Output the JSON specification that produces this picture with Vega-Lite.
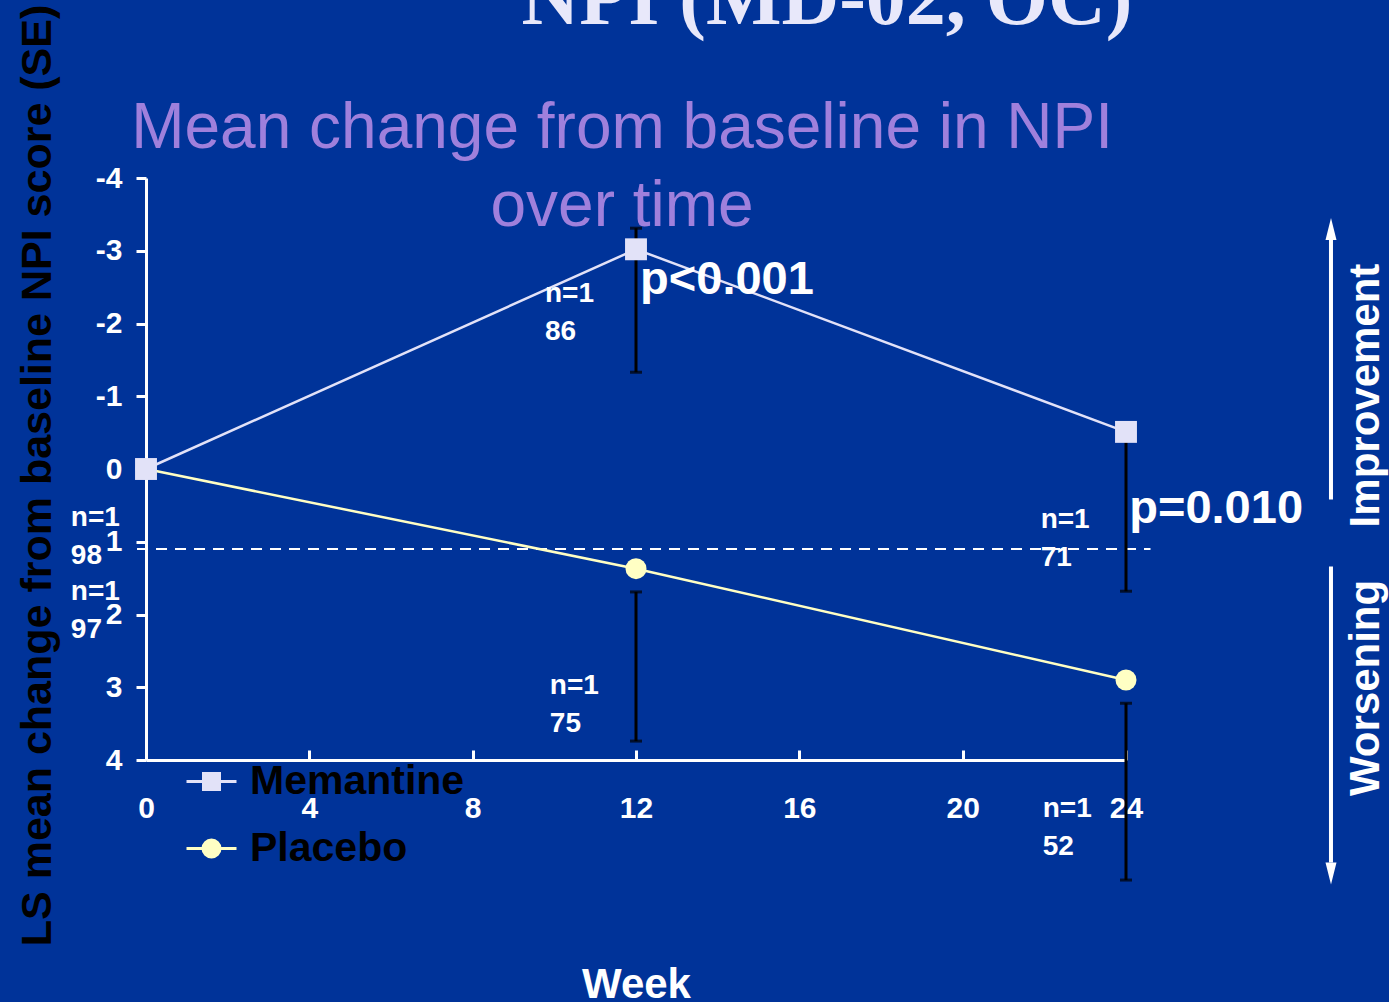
{
  "$schema": "https://vega.github.io/schema/vega-lite/v6.json",
  "width": 980,
  "height": 582,
  "autosize": {"type": "none"},
  "padding": {"left": 146, "top": 178, "right": 263, "bottom": 242},
  "background": "#003399",
  "title": {
    "text": "NPI (MD-02, OC)",
    "font": "Liberation Serif",
    "fontSize": 80,
    "fontWeight": "bold",
    "color": "#e8e8fa",
    "anchor": "middle",
    "frame": "group",
    "baseline": "alphabetic",
    "offset": 0,
    "dy": 100,
    "dx": 191
  },
  "config": {
    "view": {"stroke": null},
    "font": "Liberation Sans",
    "axis": {"grid": false}
  },
  "datasets": {
    "series": [
      {"week": 0, "series": "Placebo", "change": 0},
      {"week": 12, "series": "Placebo", "change": 1.37},
      {"week": 24, "series": "Placebo", "change": 2.9},
      {"week": 0, "series": "Memantine", "change": 0},
      {"week": 12, "series": "Memantine", "change": -3.02},
      {"week": 24, "series": "Memantine", "change": -0.51}
    ],
    "errors": [
      {"week": 12, "series": "Memantine", "lo": -3.31, "hi": -1.33},
      {"week": 24, "series": "Memantine", "lo": -0.51, "hi": 1.68},
      {"week": 12, "series": "Placebo", "lo": 1.69, "hi": 3.74},
      {"week": 24, "series": "Placebo", "lo": 3.22, "hi": 5.65}
    ],
    "counts": [
      {"week": 9.77, "change": -2.3, "label": "n=1\n86"},
      {"week": -1.84, "change": 0.79, "label": "n=1\n98"},
      {"week": -1.84, "change": 1.8, "label": "n=1\n97"},
      {"week": 9.89, "change": 3.09, "label": "n=1\n75"},
      {"week": 21.91, "change": 0.81, "label": "n=1\n71"},
      {"week": 21.96, "change": 4.79, "label": "n=1\n52"}
    ],
    "pvalues": [
      {"week": 12.1, "change": -2.41, "label": "p<0.001"},
      {"week": 24.08, "change": 0.74, "label": "p=0.010"}
    ],
    "reference": [
      {"start": -0.22, "end": 24.6, "level": 1.1}
    ],
    "arrows": [
      {"dir": "Improvement", "pos": 29.02, "from": -3.15, "to": 0.42, "head": -3.3, "labelPos": 30.2, "labelAt": -1.01},
      {"dir": "Worsening", "pos": 29.02, "from": 1.34, "to": 5.41, "head": 5.56, "labelPos": 30.2, "labelAt": 3.01}
    ],
    "heading": [
      {"week": 11.66, "change": -4.417, "label": "Mean change from baseline in NPI\nover time"}
    ]
  },
  "layer": [
    {
      "data": {"name": "reference"},
      "mark": {"type": "rule", "color": "white", "strokeWidth": 2, "strokeDash": [11, 8]},
      "encoding": {
        "x": {"field": "start", "type": "quantitative"},
        "x2": {"field": "end"},
        "y": {"field": "level", "type": "quantitative"}
      }
    },
    {
      "data": {"name": "errors"},
      "mark": {"type": "rule", "color": "black", "strokeWidth": 3},
      "encoding": {
        "x": {"field": "week", "type": "quantitative"},
        "y": {"field": "lo", "type": "quantitative"},
        "y2": {"field": "hi"}
      }
    },
    {
      "data": {"name": "errors"},
      "mark": {"type": "tick", "orient": "horizontal", "color": "black", "size": 12, "thickness": 3},
      "encoding": {
        "x": {"field": "week", "type": "quantitative"},
        "y": {"field": "lo", "type": "quantitative"}
      }
    },
    {
      "data": {"name": "errors"},
      "mark": {"type": "tick", "orient": "horizontal", "color": "black", "size": 12, "thickness": 3},
      "encoding": {
        "x": {"field": "week", "type": "quantitative"},
        "y": {"field": "hi", "type": "quantitative"}
      }
    },
    {
      "data": {"name": "series"},
      "mark": {"type": "line", "strokeWidth": 2.5},
      "encoding": {
        "x": {
          "field": "week",
          "type": "quantitative",
          "scale": {"domain": [0, 24], "nice": false, "zero": false},
          "axis": {
            "values": [0, 4, 8, 12, 16, 20, 24],
            "title": "Week",
            "titleColor": "white",
            "titleFont": "Liberation Sans",
            "titleFontSize": 42,
            "titleFontWeight": "bold",
            "titleBaseline": "alphabetic",
            "titleY": 237,
            "titleX": 490,
            "domainColor": "white",
            "domainWidth": 3,
            "tickColor": "white",
            "tickWidth": 3,
            "tickSize": -10,
            "labelColor": "white",
            "labelFontSize": 30,
            "labelFontWeight": "bold",
            "labelBaseline": "alphabetic",
            "labelPadding": 67,
            "labelFlush": false
          }
        },
        "y": {
          "field": "change",
          "type": "quantitative",
          "scale": {"domain": [-4, 4], "reverse": true, "nice": false},
          "axis": {
            "values": [-4, -3, -2, -1, 0, 1, 2, 3, 4],
            "labelExpr": "'' + datum.value",
            "title": "LS mean change from baseline NPI score (SE)",
            "titleColor": "black",
            "titleFont": "Liberation Sans",
            "titleFontSize": 43,
            "titleFontWeight": "bold",
            "titleAngle": 270,
            "titleBaseline": "alphabetic",
            "titleAlign": "center",
            "titleX": -96,
            "titleY": 297,
            "domainColor": "white",
            "domainWidth": 3,
            "tickColor": "white",
            "tickWidth": 3,
            "tickSize": 10,
            "labelColor": "white",
            "labelFontSize": 30,
            "labelFontWeight": "bold",
            "labelPadding": 14,
            "labelFlush": false
          }
        },
        "color": {
          "field": "series",
          "type": "nominal",
          "scale": {"domain": ["Memantine", "Placebo"], "range": ["#e2e2f8", "#ffffc4"]},
          "legend": {
            "orient": "none",
            "legendX": 39,
            "legendY": 577,
            "title": null,
            "values": ["Memantine", "Placebo"],
            "labelFont": "Liberation Sans",
            "labelFontSize": 41,
            "labelFontWeight": "bold",
            "labelColor": "black",
            "labelLimit": 500,
            "labelOffset": 12,
            "symbolSize": 2500,
            "symbolStrokeWidth": 3,
            "rowPadding": 20,
            "encode": {
              "symbols": {
                "update": {
                  "shape": {"signal": "datum.value === 'Memantine' ? 'M-1,0H-0.32M0.32,0H1M-0.32,-0.32H0.32V0.32H-0.32Z' : 'M-1,0H-0.34M0.34,0H1M-0.34,0A0.34,0.34 0 1,0 0.34,0A0.34,0.34 0 1,0 -0.34,0Z'"},
                  "stroke": {"scale": "color", "field": "value"},
                  "fill": {"scale": "color", "field": "value"},
                  "fillOpacity": {"value": 1},
                  "strokeWidth": {"value": 3}
                }
              }
            }
          }
        }
      }
    },
    {
      "data": {"name": "series"},
      "transform": [{"filter": "datum.series === 'Placebo'"}],
      "mark": {"type": "point", "filled": true, "size": 440, "opacity": 1, "shape": "circle"},
      "encoding": {
        "x": {"field": "week", "type": "quantitative"},
        "y": {"field": "change", "type": "quantitative"},
        "color": {"field": "series", "type": "nominal"}
      }
    },
    {
      "data": {"name": "series"},
      "transform": [{"filter": "datum.series === 'Memantine'"}],
      "mark": {"type": "point", "filled": true, "size": 480, "opacity": 1, "shape": "square"},
      "encoding": {
        "x": {"field": "week", "type": "quantitative"},
        "y": {"field": "change", "type": "quantitative"},
        "color": {"field": "series", "type": "nominal"}
      }
    },
    {
      "data": {"name": "counts"},
      "mark": {"type": "text", "align": "left", "baseline": "alphabetic", "fontSize": 28, "fontWeight": "bold", "color": "white", "lineBreak": "\n", "lineHeight": 38},
      "encoding": {
        "x": {"field": "week", "type": "quantitative"},
        "y": {"field": "change", "type": "quantitative"},
        "text": {"field": "label"}
      }
    },
    {
      "data": {"name": "pvalues"},
      "mark": {"type": "text", "align": "left", "baseline": "alphabetic", "fontSize": 47, "fontWeight": "bold", "color": "white"},
      "encoding": {
        "x": {"field": "week", "type": "quantitative"},
        "y": {"field": "change", "type": "quantitative"},
        "text": {"field": "label"}
      }
    },
    {
      "data": {"name": "arrows"},
      "mark": {"type": "rule", "color": "white", "strokeWidth": 4},
      "encoding": {
        "x": {"field": "pos", "type": "quantitative"},
        "y": {"field": "from", "type": "quantitative"},
        "y2": {"field": "to"}
      }
    },
    {
      "data": {"name": "arrows"},
      "transform": [{"filter": "datum.dir === 'Improvement'"}],
      "mark": {"type": "point", "filled": true, "opacity": 1, "color": "white", "size": 484, "shape": "M0,-1L0.5,1L-0.5,1Z"},
      "encoding": {
        "x": {"field": "pos", "type": "quantitative"},
        "y": {"field": "head", "type": "quantitative"}
      }
    },
    {
      "data": {"name": "arrows"},
      "transform": [{"filter": "datum.dir === 'Worsening'"}],
      "mark": {"type": "point", "filled": true, "opacity": 1, "color": "white", "size": 484, "shape": "M0,1L0.5,-1L-0.5,-1Z"},
      "encoding": {
        "x": {"field": "pos", "type": "quantitative"},
        "y": {"field": "head", "type": "quantitative"}
      }
    },
    {
      "data": {"name": "arrows"},
      "mark": {"type": "text", "align": "center", "baseline": "alphabetic", "angle": 270, "fontSize": 42, "fontWeight": "bold", "color": "white"},
      "encoding": {
        "x": {"field": "labelPos", "type": "quantitative"},
        "y": {"field": "labelAt", "type": "quantitative"},
        "text": {"field": "dir"}
      }
    },
    {
      "data": {"name": "heading"},
      "mark": {"type": "text", "align": "center", "baseline": "alphabetic", "fontSize": 64, "color": "#9f80dc", "lineBreak": "\n", "lineHeight": 78},
      "encoding": {
        "x": {"field": "week", "type": "quantitative"},
        "y": {"field": "change", "type": "quantitative"},
        "text": {"field": "label"}
      }
    }
  ]
}
